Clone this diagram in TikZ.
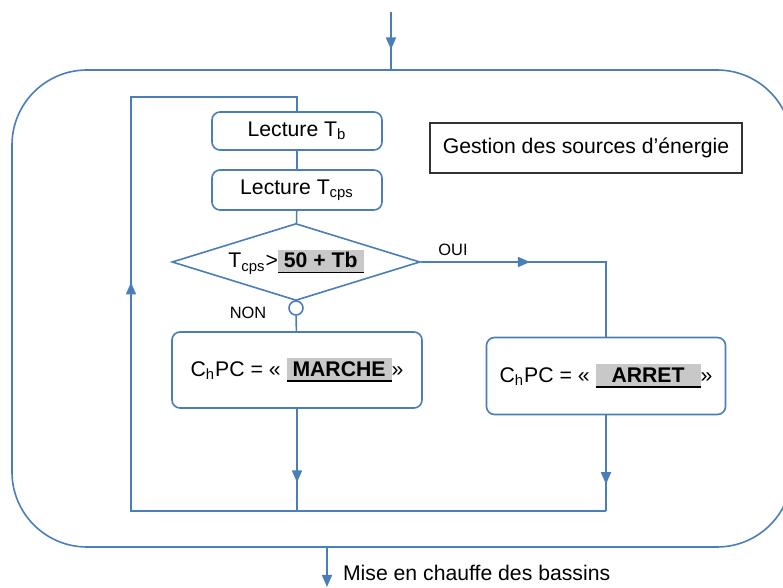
\documentclass[tikz,border=0pt]{standalone}
\usepackage{fontspec}
\setmainfont{Liberation Sans}
\usetikzlibrary{arrows.meta,shapes.geometric,decorations.markings}
\definecolor{bleu}{RGB}{74,126,187}
\definecolor{grisc}{RGB}{200,200,200}
\newcommand\champ[2]{\setbox0\hbox{\hspace{#1}\textbf{#2}\hspace{#1}}%
  \rlap{\color{grisc}\rule[-2pt]{\wd0}{11pt}}\rlap{\rule[-2.6pt]{\wd0}{0.7pt}}\box0}
\tikzset{
  ligne/.style={draw=bleu,line width=0.8pt},
  texte/.style={font=\fontsize{10.6}{12}\selectfont},
  boite/.style={ligne,texte,rounded corners=4pt},
  petit/.style={font=\fontsize{8.2}{10}\selectfont},
  fleche/.style={postaction={decorate},decoration={markings,
    mark=at position #1 with {\arrow[color=bleu]{Triangle[length=6pt,width=5pt]}}}}
}

\begin{document}
\begin{tikzpicture}[x=0.5pt,y=-0.5pt]
    \useasboundingbox (0,0) rectangle (783,588);
    \clip (0,0) rectangle (783,588);
    \node[ligne,rounded corners=37.5pt,minimum width=390pt,minimum height=238.5pt] (cadre) at (402,308.5) {};
    \node[boite,minimum width=85pt,minimum height=19pt] (tb) at (297,131) {Lecture T\textsubscript{b}};
    \node[boite,minimum width=85pt,minimum height=20pt] (tc) at (297,190) {Lecture T\textsubscript{cps}};
    \node[ligne,texte,diamond,aspect=3.2,inner sep=0pt,minimum width=124pt,minimum height=38.5pt] (test) at (296,262) {T\textsubscript{cps}>\champ{3pt}{50 + Tb}};
    \node[ligne,circle,inner sep=0pt,minimum size=7pt] (rond) at (296,308) {};
    \node[petit] (non) at (248,313) {NON};
    \node[petit] (oui) at (453,250) {OUI};
    \node[boite,minimum width=125pt,minimum height=38pt] (marche) at (297,370) {C\textsubscript{h}PC = « \champ{3pt}{MARCHE} »};
    \node[boite,minimum width=119.5pt,minimum height=38.5pt] (arret) at (606,376) {C\textsubscript{h}PC = « \champ{8pt}{ARRET} »};
    \node[texte,draw=black!80,line width=0.8pt,minimum width=156pt,minimum height=25pt] (titre) at (586,148) {Gestion des sources d’énergie};
    \node[texte,anchor=west] (mise) at (336,573) {Mise en chauffe des bassins};
    \coordinate (haut) at (391,12);
    \coordinate (sortie) at (327,587);
    \coordinate (j1) at (297,511);
    \coordinate (j2) at (606,511);
    \coordinate (c1) at (131,511);
    \coordinate (c2) at (131,97);
    \draw[ligne,fleche=0.655] (haut) -- (haut |- cadre.north);
    \draw[ligne,-{Triangle[length=6pt,width=5pt]}] (cadre.south -| sortie) -- (sortie);
    \draw[ligne] (tb) -- (tc) (tc) -- (test) (test) -- (rond) (rond) -- (marche);
    \draw[ligne,fleche=0.42] (test.east) -| (arret.north);
    \foreach \n/\j in {marche/j1,arret/j2}
    \draw[ligne,fleche=0.72] (\n.south) -- (\j);
    \draw[ligne,fleche=0.658] (j2) -- (c1) -- (c2) -| (tb.north);
\end{tikzpicture}
\end{document}
